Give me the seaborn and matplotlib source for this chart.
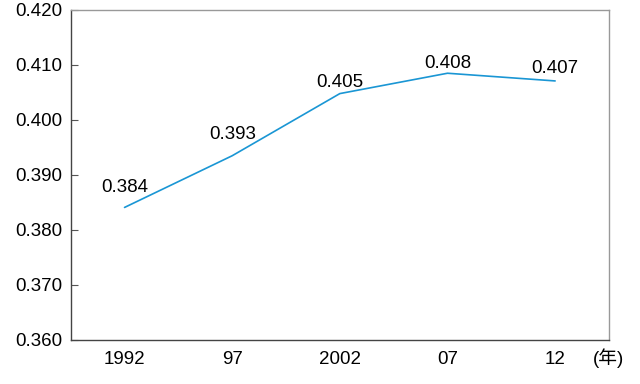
import matplotlib
matplotlib.use("Agg")
import matplotlib.pyplot as plt
import seaborn as sns
import pandas as pd
from matplotlib.ticker import FixedLocator

years = ["1992", "97", "2002", "07", "12"]
gini = [0.3841, 0.3935, 0.4048, 0.4085, 0.4071]
labels = ["0.384", "0.393", "0.405", "0.408", "0.407"]
yticks = [0.360, 0.370, 0.380, 0.390, 0.400, 0.410, 0.420]

sns.set_style("white")
plt.rcParams["font.family"] = ["Liberation Sans", "Noto Sans CJK JP"]
fs = 13.5

df = pd.DataFrame({"year": years, "gini": gini})

fig = plt.figure(figsize=(6.4, 3.84), dpi=100)
ax = fig.add_axes([0.1105, 0.1146, 0.841, 0.8594])
sns.lineplot(data=df, x="year", y="gini", ax=ax, color="#1a96d4", linewidth=1.2)

ax.set_xlim(-0.5, len(years) - 0.5)
ax.set_ylim(0.360, 0.420)
ax.set_yticks(yticks)
ax.set_yticklabels([f"{v:.3f}" for v in yticks], fontsize=fs, color="black")
ax.set_xticks(range(len(years)))
ax.set_xticklabels(years, fontsize=fs, color="black")
ax.xaxis.set_minor_locator(FixedLocator([i + 0.5 for i in range(len(years) - 1)]))
ax.tick_params(axis="x", which="major", length=0, pad=8)
ax.tick_params(axis="x", which="minor", direction="in", length=6, width=0.8, color="#555555")
ax.tick_params(axis="y", direction="in", length=5, width=0.8, color="#555555", pad=6, left=True)
ax.set_xlabel("")
ax.set_ylabel("")

for side in ["left", "bottom"]:
    ax.spines[side].set_color("#444444")
    ax.spines[side].set_linewidth(1.0)
for side in ["top", "right"]:
    ax.spines[side].set_color("#999999")
    ax.spines[side].set_linewidth(1.0)

offsets = [(0, 11), (0, 12), (0, 5), (0, 4), (0, 6)]
for i, (v, t) in enumerate(zip(gini, labels)):
    ax.annotate(t, (i, v), xytext=offsets[i], textcoords="offset points",
                ha="center", va="baseline", fontsize=fs, color="black")

# unit label, roughly on the x tick label baseline
ax.annotate("(年)", xy=(1.0, 0), xycoords="axes fraction",
            xytext=(0, -17.5), textcoords="offset points",
            ha="center", va="baseline", fontsize=fs, color="black")

fig.savefig("out.png", dpi=100)
